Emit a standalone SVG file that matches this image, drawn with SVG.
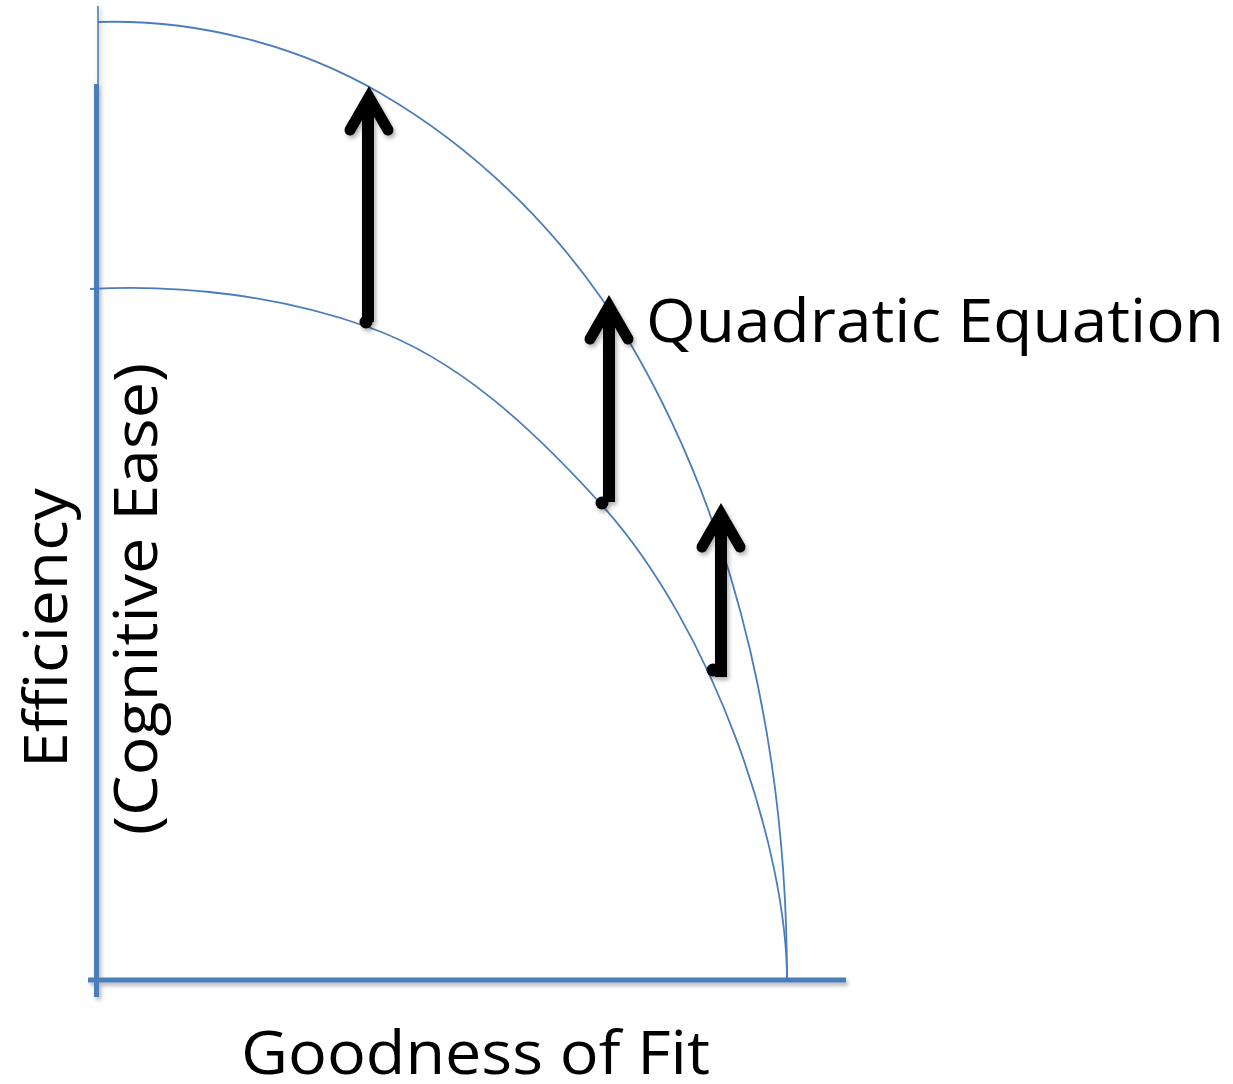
<svg xmlns="http://www.w3.org/2000/svg" width="1233" height="1084" viewBox="0 0 1233 1084">
  <style>
    .axis { stroke: #4a7ebb; stroke-width: 5; fill: none; }
    .thin { stroke: #4a7ebb; stroke-width: 1.6; fill: none; }
    .curve { stroke: #4a7ebb; stroke-width: 1.8; fill: none; }
    .shaft { stroke: #000; stroke-width: 12; fill: none; stroke-linecap: butt; }
    .head { stroke: #000; stroke-width: 11; fill: none; stroke-linecap: round; stroke-linejoin: miter; stroke-miterlimit: 10; }
    .lbl { font-family: "Open Sans", "Liberation Sans", sans-serif; font-size: 61px; fill: #000; }
  </style>
  <defs>
    <filter id="sh" x="-20%" y="-20%" width="140%" height="140%">
      <feDropShadow dx="2" dy="3" stdDeviation="2" flood-color="#000" flood-opacity="0.3"/>
    </filter>
  </defs>
  <rect width="1233" height="1084" fill="#fff"/>

  <g id="axes" filter="url(#sh)">
    <line class="thin" x1="98" y1="6" x2="98" y2="300"/>
    <line class="axis" x1="96.5" y1="84" x2="96.5" y2="997"/>
    <line class="axis" x1="88" y1="980" x2="846" y2="980"/>
  </g>

  <g id="curves">
    <path id="outer-curve" class="curve" d="M98,22 C195,19 296,44.3 380,93 C482,152 570,241 630,343 C741,532 787,761 787,980"/>
    <path id="inner-curve" class="curve" d="M90,289 C183,284 280,296 368,327 C459.6,359 534.7,431.2 600,503 C715,629.5 787,850 787,980"/>
  </g>

  <g id="arrows" filter="url(#sh)">
    <g id="arrow-1">
      <line class="shaft" x1="368" y1="322" x2="368" y2="102"/>
      <polyline class="head" points="350,130 369,97 388,130"/>
      <circle cx="366" cy="322" r="6.5"/>
    </g>
    <g id="arrow-2">
      <line class="shaft" x1="609" y1="502" x2="609" y2="312"/>
      <polyline class="head" points="590,339 609,306 628,339"/>
      <circle cx="602" cy="503" r="6.5"/>
    </g>
    <g id="arrow-3">
      <line class="shaft" x1="721" y1="677" x2="721" y2="520"/>
      <polyline class="head" points="702,547 721,514 740,547"/>
      <circle cx="713" cy="670" r="6.5"/>
    </g>
  </g>

  <g id="labels">
    <text class="lbl" x="646" y="342" textLength="578" lengthAdjust="spacingAndGlyphs">Quadratic Equation</text>
    <text class="lbl" x="241" y="1074" textLength="469" lengthAdjust="spacingAndGlyphs">Goodness of Fit</text>
    <text class="lbl" transform="translate(67,768) rotate(-90)" textLength="280" lengthAdjust="spacingAndGlyphs">Efficiency</text>
    <text class="lbl" transform="translate(157,835) rotate(-90)" textLength="472" lengthAdjust="spacingAndGlyphs">(Cognitive Ease)</text>
  </g>
</svg>
